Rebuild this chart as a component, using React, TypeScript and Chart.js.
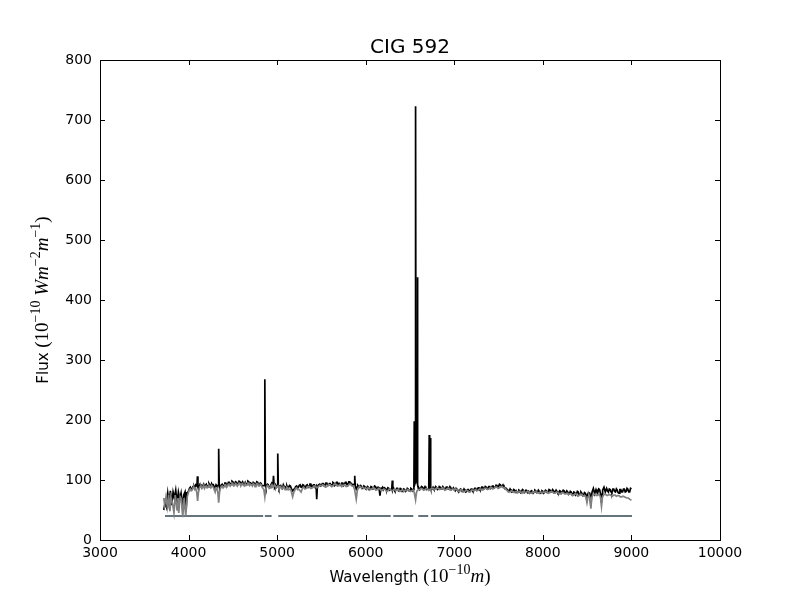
import React, { useEffect, useRef } from "react";
import { Chart, registerables } from "chart.js";

Chart.register(...registerables);

const chartTitle = "CIG 592";
const xTicks = [3000, 4000, 5000, 6000, 7000, 8000, 9000, 10000];
const yTicks = [0, 100, 200, 300, 400, 500, 600, 700, 800];
const maskLevel = 40;
const maskSegments: [number, number][] = [
  [3734, 4842], [4862, 4938], [5013, 5860], [5905, 6282], [6311, 6537], [6593, 6706], [6736, 9006],
];

// observed spectrum [wavelength, flux]
const observed: [number, number][] = [
  [3720, 50], [3735, 62], [3750, 55], [3765, 78], [3780, 60], [3795, 82], [3810, 58], [3825, 80],
  [3840, 70], [3855, 83], [3870, 62], [3885, 80], [3900, 68], [3915, 78], [3930, 55], [3945, 75],
  [3960, 80], [3970, 48], [3985, 78], [4000, 82], [4010, 86], [4020, 88], [4030, 84], [4040, 85],
  [4050, 89], [4060, 90], [4070, 87], [4080, 92], [4094, 90], [4100, 106], [4106, 89], [4113, 84],
  [4120, 88], [4130, 93], [4140, 92], [4150, 88], [4160, 90], [4170, 93], [4180, 89], [4190, 91],
  [4200, 93], [4210, 89], [4220, 90], [4230, 94], [4240, 91], [4250, 89], [4260, 94], [4270, 91],
  [4280, 92], [4290, 87], [4300, 88], [4310, 92], [4320, 90], [4334, 91], [4340, 152], [4346, 90],
  [4352, 85], [4360, 88], [4370, 92], [4380, 93], [4390, 90], [4400, 91], [4410, 95], [4420, 95],
  [4430, 91], [4440, 92], [4450, 96], [4460, 96], [4470, 92], [4480, 94], [4490, 98], [4500, 97],
  [4510, 93], [4520, 93], [4530, 97], [4540, 96], [4550, 92], [4560, 94], [4570, 98], [4580, 97],
  [4590, 93], [4600, 95], [4610, 97], [4620, 93], [4630, 92], [4640, 96], [4650, 93], [4660, 94],
  [4670, 98], [4680, 97], [4690, 93], [4700, 95], [4710, 94], [4720, 92], [4730, 96], [4740, 95],
  [4750, 91], [4760, 93], [4770, 97], [4780, 96], [4790, 92], [4800, 92], [4810, 95], [4820, 94],
  [4830, 90], [4840, 90], [4855, 91], [4861, 268], [4867, 90], [4874, 86], [4880, 90], [4890, 93],
  [4900, 92], [4910, 88], [4920, 88], [4930, 92], [4940, 95], [4953, 93], [4959, 107], [4965, 92],
  [4972, 89], [4980, 92], [4990, 88], [5000, 91], [5007, 144], [5013, 90], [5020, 86], [5030, 90],
  [5040, 91], [5050, 88], [5060, 86], [5070, 92], [5080, 89], [5090, 86], [5100, 89], [5110, 90],
  [5120, 86], [5130, 88], [5140, 91], [5150, 90], [5162, 85], [5175, 82], [5187, 84], [5200, 86],
  [5210, 89], [5220, 90], [5230, 87], [5240, 88], [5250, 91], [5260, 92], [5270, 88], [5280, 89],
  [5290, 92], [5300, 91], [5310, 87], [5320, 88], [5330, 91], [5340, 92], [5350, 88], [5360, 90],
  [5370, 93], [5380, 93], [5390, 89], [5400, 89], [5410, 92], [5420, 92], [5430, 88], [5440, 90],
  [5447, 68], [5454, 89], [5467, 92], [5480, 93], [5490, 90], [5500, 91], [5510, 94], [5520, 94],
  [5530, 90], [5540, 92], [5550, 95], [5560, 95], [5570, 91], [5580, 91], [5590, 94], [5600, 94],
  [5610, 91], [5620, 92], [5630, 96], [5640, 95], [5650, 91], [5660, 93], [5670, 96], [5680, 96],
  [5690, 92], [5700, 94], [5710, 91], [5720, 92], [5730, 95], [5740, 95], [5750, 91], [5760, 93],
  [5770, 96], [5780, 96], [5790, 92], [5800, 94], [5810, 97], [5820, 97], [5830, 93], [5840, 94],
  [5850, 91], [5860, 92], [5870, 93], [5876, 107], [5882, 90], [5893, 85], [5902, 88], [5910, 91],
  [5920, 89], [5930, 88], [5940, 91], [5950, 90], [5960, 86], [5970, 87], [5980, 90], [5990, 89],
  [6000, 85], [6010, 86], [6020, 89], [6030, 88], [6040, 84], [6050, 85], [6060, 89], [6070, 88],
  [6080, 85], [6090, 86], [6100, 90], [6110, 89], [6120, 86], [6130, 85], [6140, 88], [6150, 87],
  [6161, 74], [6170, 86], [6180, 86], [6190, 88], [6200, 84], [6210, 87], [6220, 86], [6230, 84],
  [6240, 83], [6250, 87], [6260, 86], [6270, 83], [6280, 84], [6294, 85], [6300, 99], [6306, 84],
  [6313, 87], [6320, 85], [6330, 82], [6340, 83], [6350, 86], [6360, 86], [6370, 82], [6380, 83],
  [6390, 86], [6400, 85], [6410, 81], [6420, 82], [6430, 85], [6440, 84], [6450, 81], [6460, 82],
  [6470, 86], [6480, 85], [6490, 82], [6500, 83], [6510, 86], [6520, 85], [6530, 82], [6540, 84],
  [6544, 88], [6548, 198], [6552, 92], [6558, 95], [6563, 723], [6568, 112], [6574, 96], [6580, 102],
  [6584, 438], [6588, 92], [6594, 86], [6600, 87], [6610, 84], [6620, 86], [6630, 89], [6640, 88],
  [6650, 85], [6660, 86], [6670, 89], [6680, 87], [6690, 84], [6700, 85], [6712, 86], [6717, 175],
  [6722, 90], [6726, 92], [6731, 170], [6736, 87], [6748, 85], [6760, 88], [6770, 85], [6780, 86],
  [6790, 89], [6800, 87], [6810, 84], [6820, 85], [6830, 89], [6840, 88], [6850, 85], [6860, 86],
  [6870, 89], [6880, 87], [6890, 84], [6900, 85], [6910, 88], [6920, 88], [6930, 85], [6940, 86],
  [6950, 89], [6960, 87], [6970, 84], [6980, 85], [6990, 87], [7000, 84], [7010, 82], [7020, 86],
  [7030, 84], [7040, 83], [7050, 80], [7060, 82], [7070, 85], [7080, 84], [7090, 81], [7100, 82],
  [7110, 85], [7120, 83], [7130, 80], [7140, 81], [7150, 84], [7160, 84], [7170, 81], [7180, 82],
  [7190, 85], [7200, 85], [7210, 82], [7220, 83], [7230, 86], [7240, 86], [7250, 83], [7260, 84],
  [7270, 87], [7280, 87], [7290, 84], [7300, 85], [7310, 88], [7320, 88], [7330, 85], [7340, 86],
  [7350, 89], [7360, 88], [7370, 85], [7380, 86], [7390, 89], [7400, 89], [7410, 86], [7420, 87],
  [7430, 90], [7440, 90], [7450, 87], [7460, 88], [7470, 91], [7480, 91], [7490, 88], [7500, 89],
  [7510, 93], [7520, 92], [7530, 89], [7540, 90], [7550, 92], [7560, 89], [7570, 86], [7580, 87],
  [7590, 85], [7600, 84], [7610, 81], [7620, 82], [7630, 85], [7640, 83], [7650, 80], [7660, 81],
  [7670, 84], [7680, 83], [7690, 80], [7700, 82], [7710, 79], [7720, 80], [7730, 83], [7740, 82],
  [7750, 79], [7760, 81], [7770, 84], [7780, 83], [7790, 79], [7800, 80], [7810, 83], [7820, 82],
  [7830, 79], [7840, 81], [7850, 78], [7860, 79], [7870, 82], [7880, 81], [7890, 78], [7900, 80],
  [7910, 83], [7920, 82], [7930, 79], [7940, 80], [7950, 83], [7960, 81], [7970, 78], [7980, 79],
  [7990, 82], [8000, 81], [8010, 78], [8020, 80], [8030, 83], [8040, 82], [8050, 79], [8060, 80],
  [8070, 84], [8080, 83], [8090, 80], [8100, 81], [8110, 84], [8120, 82], [8130, 79], [8140, 80],
  [8150, 83], [8160, 81], [8170, 78], [8180, 79], [8190, 82], [8200, 81], [8210, 78], [8220, 80],
  [8230, 83], [8240, 82], [8250, 78], [8260, 79], [8270, 82], [8280, 80], [8290, 76], [8300, 77],
  [8310, 81], [8320, 80], [8330, 75], [8340, 76], [8350, 80], [8360, 79], [8370, 75], [8380, 77],
  [8390, 81], [8400, 80], [8410, 75], [8420, 76], [8430, 80], [8440, 78], [8450, 74], [8460, 75],
  [8470, 79], [8480, 78], [8490, 74], [8498, 66], [8506, 76], [8515, 79], [8530, 78], [8542, 56],
  [8550, 74], [8556, 80], [8570, 86], [8585, 77], [8600, 84], [8610, 80], [8620, 79], [8630, 85],
  [8640, 84], [8650, 78], [8662, 62], [8668, 76], [8675, 83], [8690, 88], [8705, 80], [8720, 86],
  [8730, 82], [8740, 80], [8750, 85], [8760, 84], [8770, 80], [8780, 79], [8790, 85], [8800, 85],
  [8810, 81], [8820, 80], [8830, 85], [8840, 83], [8850, 79], [8860, 78], [8870, 84], [8880, 84],
  [8890, 80], [8900, 80], [8910, 85], [8920, 85], [8930, 80], [8940, 81], [8950, 86], [8960, 84],
  [8970, 80], [8980, 80], [8990, 86], [9000, 85],
];

// model (synthetic) spectrum [wavelength, flux]
const model: [number, number][] = [
  [3720, 70], [3730, 58], [3745, 72], [3760, 55], [3775, 75], [3790, 48], [3800, 72], [3820, 60],
  [3835, 45], [3850, 75], [3870, 50], [3880, 70], [3889, 45], [3905, 72], [3920, 68], [3934, 38],
  [3950, 70], [3968, 40], [3985, 72], [4000, 80], [4010, 84], [4020, 85], [4030, 82], [4040, 83],
  [4050, 87], [4060, 88], [4070, 84], [4080, 86], [4092, 80], [4102, 65], [4112, 80], [4120, 86],
  [4130, 89], [4140, 90], [4150, 86], [4160, 88], [4170, 91], [4180, 86], [4190, 89], [4200, 90],
  [4210, 87], [4220, 88], [4230, 91], [4240, 89], [4250, 87], [4260, 91], [4270, 89], [4280, 88],
  [4290, 84], [4300, 80], [4310, 87], [4320, 86], [4330, 80], [4340, 62], [4350, 80], [4360, 86],
  [4370, 89], [4380, 90], [4390, 87], [4400, 89], [4410, 92], [4420, 92], [4430, 88], [4440, 90],
  [4450, 93], [4460, 93], [4470, 90], [4480, 92], [4490, 95], [4500, 94], [4510, 90], [4520, 91],
  [4530, 94], [4540, 93], [4550, 90], [4560, 92], [4570, 95], [4580, 94], [4590, 90], [4600, 93],
  [4610, 94], [4620, 91], [4630, 90], [4640, 94], [4650, 91], [4660, 92], [4670, 95], [4680, 95],
  [4690, 91], [4700, 93], [4710, 92], [4720, 90], [4730, 94], [4740, 93], [4750, 89], [4760, 91],
  [4770, 94], [4780, 94], [4790, 90], [4800, 90], [4810, 93], [4820, 92], [4830, 88], [4840, 88],
  [4850, 84], [4861, 72], [4870, 84], [4880, 88], [4890, 91], [4900, 90], [4910, 86], [4920, 87],
  [4930, 90], [4940, 92], [4950, 88], [4960, 89], [4970, 92], [4980, 90], [4990, 87], [5000, 88],
  [5010, 90], [5020, 86], [5030, 88], [5040, 89], [5050, 85], [5060, 85], [5070, 89], [5080, 88],
  [5090, 84], [5100, 84], [5110, 88], [5120, 87], [5130, 84], [5150, 85], [5162, 80], [5175, 72],
  [5187, 79], [5200, 83], [5210, 86], [5220, 87], [5230, 84], [5240, 85], [5255, 83], [5270, 80],
  [5285, 86], [5300, 88], [5315, 85], [5330, 86], [5345, 89], [5360, 89], [5380, 86], [5400, 87],
  [5415, 90], [5430, 90], [5445, 87], [5460, 88], [5480, 91], [5500, 90], [5515, 92], [5530, 91],
  [5545, 88], [5560, 89], [5580, 92], [5600, 92], [5615, 89], [5630, 90], [5645, 93], [5660, 93],
  [5680, 90], [5700, 91], [5715, 93], [5730, 89], [5745, 91], [5760, 92], [5780, 89], [5800, 90],
  [5815, 93], [5830, 93], [5845, 90], [5860, 90], [5875, 84], [5893, 68], [5905, 82], [5920, 88],
  [5935, 89], [5950, 87], [5965, 88], [5980, 86], [5995, 87], [6010, 84], [6025, 87], [6040, 86],
  [6055, 84], [6070, 85], [6085, 87], [6100, 86], [6115, 83], [6130, 84], [6145, 86], [6160, 85],
  [6175, 82], [6190, 83], [6205, 85], [6220, 84], [6235, 81], [6250, 82], [6265, 85], [6280, 84],
  [6295, 82], [6310, 83], [6325, 85], [6340, 82], [6355, 84], [6370, 84], [6385, 81], [6400, 82],
  [6415, 84], [6430, 81], [6445, 83], [6460, 82], [6475, 84], [6490, 83], [6505, 81], [6520, 82],
  [6535, 83], [6548, 79], [6563, 67], [6572, 78], [6580, 82], [6595, 84], [6610, 84], [6625, 86],
  [6640, 85], [6655, 83], [6670, 84], [6685, 86], [6700, 85], [6715, 83], [6730, 84], [6745, 86],
  [6760, 86], [6775, 84], [6790, 85], [6805, 87], [6820, 86], [6835, 84], [6850, 85], [6865, 87],
  [6880, 86], [6895, 83], [6910, 84], [6925, 86], [6940, 86], [6955, 83], [6970, 84], [6985, 85],
  [7000, 83], [7015, 85], [7030, 84], [7045, 81], [7060, 81], [7075, 84], [7090, 83], [7105, 80],
  [7120, 81], [7135, 83], [7150, 82], [7165, 80], [7180, 80], [7195, 83], [7210, 83], [7225, 82],
  [7240, 84], [7255, 82], [7270, 83], [7285, 85], [7300, 85], [7315, 83], [7330, 84], [7345, 86],
  [7360, 86], [7375, 84], [7390, 85], [7405, 87], [7420, 87], [7435, 85], [7450, 86], [7465, 88],
  [7480, 88], [7495, 86], [7510, 87], [7525, 89], [7540, 89], [7555, 87], [7570, 87], [7585, 84],
  [7600, 82], [7615, 80], [7630, 80], [7645, 82], [7660, 81], [7675, 79], [7690, 80], [7705, 81],
  [7720, 79], [7735, 81], [7750, 80], [7765, 78], [7780, 81], [7795, 80], [7810, 79], [7825, 81],
  [7840, 80], [7855, 78], [7870, 78], [7885, 80], [7900, 79], [7915, 81], [7930, 80], [7945, 78],
  [7960, 79], [7975, 80], [7990, 78], [8005, 80], [8020, 79], [8035, 81], [8050, 80], [8065, 78],
  [8080, 79], [8095, 81], [8110, 80], [8125, 78], [8140, 78], [8155, 80], [8170, 79], [8185, 77],
  [8200, 77], [8215, 79], [8230, 79], [8245, 77], [8260, 77], [8275, 78], [8290, 76], [8305, 77],
  [8320, 77], [8335, 74], [8350, 75], [8365, 77], [8380, 76], [8395, 73], [8410, 74], [8425, 76],
  [8440, 76], [8455, 73], [8470, 74], [8485, 72], [8498, 62], [8510, 72], [8520, 75], [8532, 70],
  [8542, 52], [8552, 70], [8560, 74], [8575, 76], [8590, 76], [8605, 74], [8620, 75], [8635, 76],
  [8650, 72], [8662, 56], [8672, 70], [8680, 74], [8695, 76], [8710, 76], [8725, 74], [8740, 75],
  [8755, 76], [8770, 74], [8785, 73], [8800, 75], [8815, 75], [8830, 73], [8845, 74], [8860, 74],
  [8875, 72], [8890, 72], [8905, 73], [8920, 72], [8935, 71], [8950, 70], [8965, 70], [8980, 68],
  [9000, 66],
];

type Part = { text: string; font: string; dy?: number };

const SANS = "'DejaVu Sans', sans-serif";
const SERIF = "'Liberation Serif', 'DejaVu Serif', serif";

const xLabelParts: Part[] = [
  { text: "Wavelength ", font: `15px ${SANS}` },
  { text: "(10", font: `19px ${SERIF}` },
  { text: "\u221210", font: `14px ${SERIF}`, dy: -8 },
  { text: "m", font: `italic 19px ${SERIF}` },
  { text: ")", font: `19px ${SERIF}` },
];

const yLabelParts: Part[] = [
  { text: "Flux ", font: `15px ${SANS}` },
  { text: "(10", font: `19px ${SERIF}` },
  { text: "\u221210", font: `14px ${SERIF}`, dy: -8 },
  { text: " Wm", font: `italic 19px ${SERIF}` },
  { text: "\u22122", font: `14px ${SERIF}`, dy: -8 },
  { text: "m", font: `italic 19px ${SERIF}` },
  { text: "\u22121", font: `14px ${SERIF}`, dy: -8 },
  { text: ")", font: `19px ${SERIF}` },
];

function drawParts(ctx: CanvasRenderingContext2D, parts: Part[], cx: number, baseline: number) {
  let total = 0;
  for (const p of parts) {
    ctx.font = p.font;
    total += ctx.measureText(p.text).width;
  }
  let x = cx - total / 2;
  ctx.textAlign = "left";
  ctx.textBaseline = "alphabetic";
  for (const p of parts) {
    ctx.font = p.font;
    ctx.fillText(p.text, x, baseline + (p.dy || 0));
    x += ctx.measureText(p.text).width;
  }
}

const framePlugin = {
  id: "frameAndLabels",
  afterDraw(chart: any) {
    const ctx: CanvasRenderingContext2D = chart.ctx;
    const { left, right, top, bottom } = chart.chartArea;
    const xs = chart.scales.x;
    const ys = chart.scales.y;
    ctx.save();
    ctx.strokeStyle = "#000";
    ctx.lineWidth = 1;
    ctx.strokeRect(Math.round(left) + 0.5, Math.round(top) + 0.5, Math.round(right - left), Math.round(bottom - top));
    const tl = 5;
    ctx.beginPath();
    for (const v of xTicks) {
      const px = Math.round(xs.getPixelForValue(v)) + 0.5;
      ctx.moveTo(px, bottom);
      ctx.lineTo(px, bottom - tl);
      ctx.moveTo(px, top);
      ctx.lineTo(px, top + tl);
    }
    for (const v of yTicks) {
      const py = Math.round(ys.getPixelForValue(v)) + 0.5;
      ctx.moveTo(left, py);
      ctx.lineTo(left + tl, py);
      ctx.moveTo(right, py);
      ctx.lineTo(right - tl, py);
    }
    ctx.stroke();

    ctx.fillStyle = "#000";
    ctx.font = `20px ${SANS}`;
    ctx.textAlign = "center";
    ctx.textBaseline = "alphabetic";
    ctx.fillText(chartTitle, (left + right) / 2, 53);

    drawParts(ctx, xLabelParts, (left + right) / 2, 582);

    ctx.translate(48, (top + bottom) / 2);
    ctx.rotate(-Math.PI / 2);
    drawParts(ctx, yLabelParts, 0, 0);
    ctx.restore();
  },
};

export default function App() {
  const ref = useRef<HTMLCanvasElement | null>(null);

  useEffect(() => {
    document.body.style.margin = "0";
    if (!ref.current) return;
    const maskData: { x: number; y: number | null }[] = [];
    maskSegments.forEach(([s, e]) => {
      maskData.push({ x: s, y: maskLevel });
      maskData.push({ x: e, y: maskLevel });
      maskData.push({ x: e + 1, y: null });
    });
    const chart = new Chart(ref.current, {
      type: "line",
      data: {
        datasets: [
          {
            label: "model",
            data: model.map(([x, y]) => ({ x, y })),
            borderColor: "#808080",
            borderWidth: 1.7,
            pointRadius: 0,
            tension: 0,
          },
          {
            label: "observed",
            data: observed.map(([x, y]) => ({ x, y })),
            borderColor: "#000000",
            borderWidth: 1.7,
            pointRadius: 0,
            tension: 0,
          },
          {
            label: "mask",
            data: maskData as any,
            borderColor: "#65737c",
            borderWidth: 2,
            pointRadius: 0,
            tension: 0,
            spanGaps: false,
          },
        ],
      },
      options: {
        animation: false,
        responsive: false,
        events: [],
        layout: { padding: { top: 60, right: 80, left: 0, bottom: 0 } },
        plugins: { legend: { display: false }, tooltip: { enabled: false }, title: { display: false } },
        scales: {
          x: {
            type: "linear",
            min: 3000,
            max: 10000,
            grid: { display: false, drawTicks: false },
            border: { display: false },
            afterBuildTicks: (s: any) => {
              s.ticks = xTicks.map((v) => ({ value: v }));
            },
            afterFit: (s: any) => {
              s.height = 60;
            },
            ticks: {
              color: "#000",
              font: { family: "'DejaVu Sans'", size: 14 },
              padding: 5,
              maxRotation: 0,
              autoSkip: false,
              callback: (v: any) => String(v),
            },
          },
          y: {
            type: "linear",
            min: 0,
            max: 800,
            grid: { display: false, drawTicks: false },
            border: { display: false },
            afterBuildTicks: (s: any) => {
              s.ticks = yTicks.map((v) => ({ value: v }));
            },
            afterFit: (s: any) => {
              s.width = 100;
            },
            ticks: {
              color: "#000",
              font: { family: "'DejaVu Sans'", size: 14 },
              padding: 8,
              autoSkip: false,
              callback: (v: any) => String(v),
            },
          },
        },
      },
      plugins: [framePlugin],
    });
    return () => chart.destroy();
  }, []);

  return (
    <div style={{ position: "absolute", left: 0, top: 0, width: 800, height: 600, background: "#fff" }}>
      <canvas ref={ref} width={800} height={600} style={{ width: 800, height: 600 }} />
    </div>
  );
}
